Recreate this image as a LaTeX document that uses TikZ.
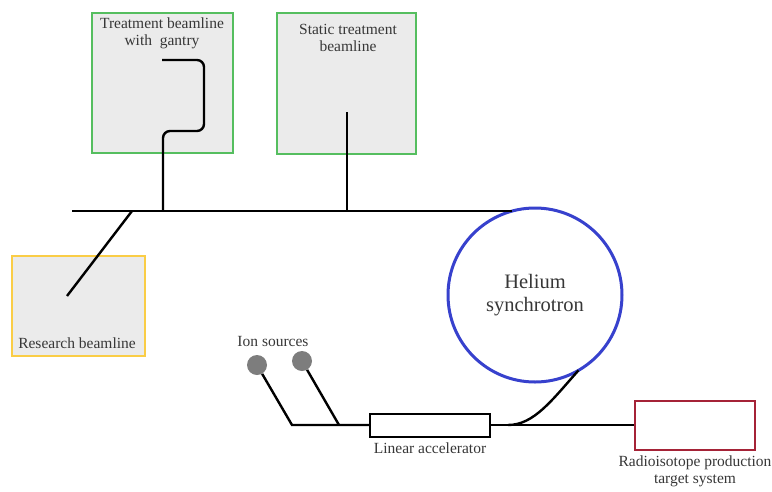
\documentclass[tikz,border=0pt]{standalone}
\usepackage{fontspec}
\setmainfont{Liberation Serif}
\newfontfamily\diagfont{Liberation Serif}
\usepackage{tikz}
\usetikzlibrary{positioning,calc}
\definecolor{roomfill}{RGB}{235,235,235}
\definecolor{roomgreen}{RGB}{85,190,95}
\definecolor{roomgold}{RGB}{250,205,70}
\definecolor{targetred}{RGB}{165,35,55}
\definecolor{ringblue}{RGB}{55,65,205}
\definecolor{labelgray}{RGB}{55,55,55}
\definecolor{srcgray}{RGB}{125,125,125}

\begin{document}
\begin{tikzpicture}[x=1pt,y=-1pt,
					room/.style={draw,line width=2pt,fill=roomfill,inner sep=0pt,outer sep=0pt},
					txt/.style={text=labelgray,font=\diagfont\fontsize{15.5}{17}\selectfont,align=center,inner sep=0pt},
					beam/.style={line width=2.4pt,black},
					src/.style={circle,fill=srcgray,minimum size=20pt,inner sep=0pt}]
				\useasboundingbox (0,0) rectangle (772,491);
				% treatment rooms
				\node[room,draw=roomgreen,minimum width=141pt,minimum height=140pt] (gantry) at (162.5,83) {};
				\node[room,draw=roomgreen,minimum width=139pt,minimum height=141pt] (static) at (346.5,83.5) {};
				\node[room,draw=roomgold,minimum width=133pt,minimum height=100pt] (research) at (78.5,306) {};
				\node[txt] (gantrytxt) at (162,33) {Treatment beamline\\with\ \ gantry};
				\node[txt] (statictxt) at (348,38) {Static treatment\\beamline};
				\node[txt] (researchtxt) at (77,343) {Research beamline};
				% synchrotron
				\node[circle,draw=ringblue,line width=3pt,minimum size=174pt,inner sep=0pt,outer sep=0pt,
					txt,font=\diagfont\fontsize{20.5}{22.5}\selectfont] (sync) at (535,295) {Helium\\synchrotron};
				% injector
				\node[src] (ion1) at (257,365) {};
				\node[src] (ion2) at (302,361) {};
				\node[txt] (iontxt) at (273,341) {Ion sources};
				\node[draw,line width=2pt,fill=white,minimum width=120pt,minimum height=23pt,inner sep=0pt] (linac) at (430,425) {};
				\node[txt,below=5pt of linac] (linactxt) {Linear accelerator};
				\node[draw=targetred,line width=2pt,minimum width=120pt,minimum height=49pt,inner sep=0pt] (target) at (695,425) {};
				\node[txt,below=5pt of target] (targettxt) {Radioisotope production\\target system};
				% beam lines
				\coordinate (hebtL) at (72,211);
				\coordinate (brRes) at (132,211);
				\coordinate (brGan) at (163,211);
				\coordinate (brSta) at (347,211);
				\coordinate (j1) at (292,425);
				\coordinate (j2) at (339,425);
				\coordinate (extr) at (508,425);
				\draw[beam] (hebtL) -- (hebtL -| sync.105);
				\draw[beam] (brRes) -- (67,296);
				\draw[beam,rounded corners=7pt] (brGan) -- (163,131) -- (204,131) -- (204,60) -- (162,60);
				\draw[beam] (brSta) -- (347,112);
				\draw[beam] (ion1) -- (j1) -- (linac.west);
				\draw[beam] (ion2) -- (j2);
				\draw[beam] (linac.east) -- (target.west);
				\draw[beam] (extr) .. controls (534,425) and (552,400) .. (sync.-60);
			\end{tikzpicture}
\end{document}
